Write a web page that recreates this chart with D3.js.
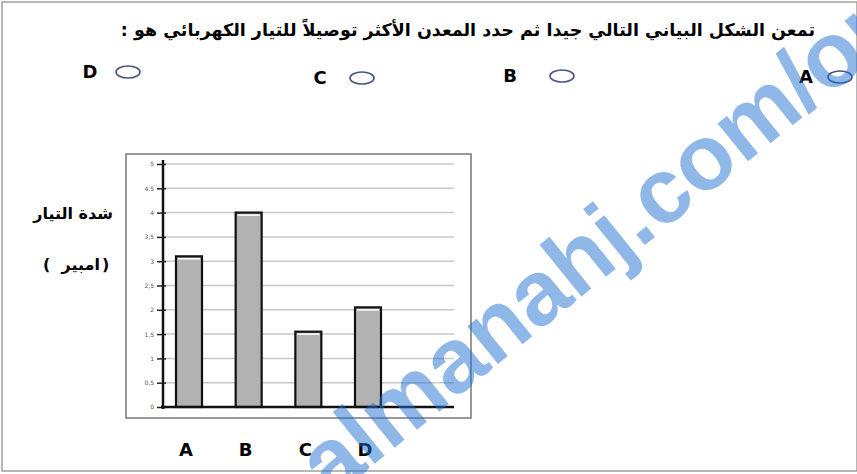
<!DOCTYPE html>
<html>
<head>
<meta charset="utf-8">
<script src="https://cdn.jsdelivr.net/npm/d3@7"></script>
<style>
  body { margin: 0; background: #fff; }
  text { font-family: "DejaVu Sans", "Liberation Sans", sans-serif; }
</style>
</head>
<body>
<div id="chart"></div>
<script>
// data
var metals = ["A", "B", "C", "D"];
var current = [3.1, 4, 1.55, 2.05];
var yTicks = [0, 0.5, 1, 1.5, 2, 2.5, 3, 3.5, 4, 4.5, 5];
var options = ["D", "C", "B", "A"];

var W = 857, H = 474;
var svg = d3.select("#chart").append("svg").attr("width", W).attr("height", H);

// page frame
svg.append("rect").attr("x", 2).attr("y", 2).attr("width", W - 2).attr("height", 469)
    .attr("fill", "none").attr("stroke", "#888").attr("stroke-width", 1.2);

// question
svg.append("text").attr("x", 815).attr("y", 36)
    .attr("text-anchor", "start").attr("direction", "rtl")
    .style("font-size", "17.5px").style("font-weight", "bold")
    .text("تمعن الشكل البياني التالي جيدا ثم حدد المعدن الأكثر توصيلاً للتيار الكهربائي هو :");

// answer choices
var optPos = { D: [90, 128, 72], C: [320, 362, 78], B: [510, 562, 76], A: [806, 840, 77] };
var opt = svg.append("g").selectAll("g").data(options).enter().append("g");
opt.append("text")
    .attr("x", function(d) { return optPos[d][0]; })
    .attr("y", function(d) { return optPos[d][2] + 6; })
    .attr("text-anchor", "middle")
    .style("font-size", "18px").style("font-weight", "bold")
    .text(function(d) { return d; });
opt.append("ellipse")
    .attr("cx", function(d) { return optPos[d][1]; })
    .attr("cy", function(d) { return optPos[d][2]; })
    .attr("rx", 12).attr("ry", 6)
    .attr("fill", "none").attr("stroke", "#4a5680").attr("stroke-width", 1.6);

// chart box
var box = { x: 126, y: 154, w: 345, h: 264 };
svg.append("rect").attr("x", box.x).attr("y", box.y).attr("width", box.w).attr("height", box.h)
    .attr("fill", "#fff").attr("stroke", "#777").attr("stroke-width", 1.5);

var x0 = 163, x1 = 454, barW = 26;
var y = d3.scaleLinear().domain([0, 5]).range([407, 164]);
var x = d3.scalePoint().domain(metals).range([189, 368]);

// grid
svg.append("g").selectAll("line").data(yTicks.slice(1)).enter().append("line")
    .attr("x1", x0).attr("x2", x1)
    .attr("y1", function(d) { return y(d); }).attr("y2", function(d) { return y(d); })
    .attr("stroke", "#c8c8c8").attr("stroke-width", 1.5);

// y axis
var yAxis = d3.axisLeft(y).tickValues(yTicks).tickSizeInner(6).tickSizeOuter(0)
    .tickPadding(3)
    .tickFormat(function(d) { return String(d).replace(".", ","); });
var ga = svg.append("g").attr("transform", "translate(" + x0 + ",0)").call(yAxis);
ga.select(".domain").attr("stroke", "#111").attr("stroke-width", 2.5)
    .attr("d", "M0," + (y(0) + 2) + "V" + (y(5) - 4));
ga.selectAll(".tick line").attr("stroke", "#222").attr("stroke-width", 1.5).attr("x2", -6);
ga.selectAll(".tick").append("line").attr("x1", 0).attr("x2", 3)
    .attr("stroke", "#222").attr("stroke-width", 1.5);
ga.selectAll(".tick text").style("font-size", "6px").attr("fill", "#555");

// bars
var bars = svg.append("g").selectAll("g").data(metals).enter().append("g");
bars.append("rect")
    .attr("x", function(d) { return x(d) - barW / 2; })
    .attr("y", function(d, i) { return y(current[i]); })
    .attr("width", barW)
    .attr("height", function(d, i) { return y(0) - y(current[i]); })
    .attr("fill", "#b2b2b2").attr("stroke", "#111").attr("stroke-width", 2.2);
bars.append("line")
    .attr("x1", function(d) { return x(d) - barW / 2 + 2; })
    .attr("x2", function(d) { return x(d) + barW / 2 - 2; })
    .attr("y1", function(d, i) { return y(current[i]) + 2.5; })
    .attr("y2", function(d, i) { return y(current[i]) + 2.5; })
    .attr("stroke", "#fff").attr("stroke-width", 1.5);

// baseline
svg.append("line").attr("x1", x0 - 2).attr("x2", x1).attr("y1", y(0)).attr("y2", y(0))
    .attr("stroke", "#111").attr("stroke-width", 2.5);

// category labels
svg.append("g").selectAll("text").data(metals).enter().append("text")
    .attr("x", function(d) { return x(d) - 3; })
    .attr("y", 456)
    .attr("text-anchor", "middle")
    .style("font-size", "18px").style("font-weight", "bold")
    .text(function(d) { return d; });

// y title
svg.append("text").attr("x", 113).attr("y", 219).attr("text-anchor", "end")
    .style("font-size", "16px").style("font-weight", "bold")
    .text("شدة التيار");
// unit in brackets, pieces placed separately so bidi can't flip them
var unit = svg.append("g").style("font-size", "16px").style("font-weight", "bold");
unit.append("text").attr("x", 43).attr("y", 270).text("(");
unit.append("text").attr("x", 100).attr("y", 270).attr("text-anchor", "end").text("امبير");
unit.append("text").attr("x", 102).attr("y", 270).text(")");

// watermark
svg.append("text")
    .attr("transform", "translate(330,500) rotate(-39)")
    .style("font-family", "'Liberation Sans', Arial, sans-serif")
    .style("font-size", "92px").style("font-weight", "bold")
    .attr("fill", "#1f6fd0").attr("fill-opacity", 0.5)
    .text("almanahj.com/om");
</script>
</body>
</html>
